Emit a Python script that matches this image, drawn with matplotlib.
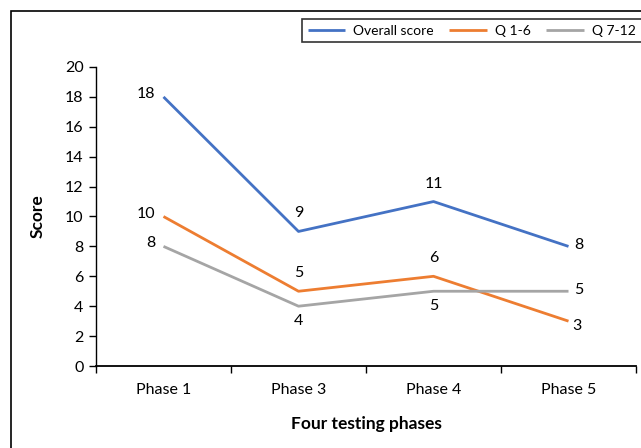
import matplotlib
matplotlib.use("Agg")
import matplotlib.pyplot as plt
from matplotlib.patches import Rectangle

plt.rcParams["font.family"] = ["Lato", "DejaVu Sans"]

phases = ["Phase 1", "Phase 3", "Phase 4", "Phase 5"]
overall = [18, 9, 11, 8]
q1_6 = [10, 5, 6, 3]
q7_12 = [8, 4, 5, 5]

# where each data label sits relative to its point
overall_pos = ["left", "above", "above", "right"]
q1_6_pos = ["left", "above", "above", "right_low"]
q7_12_pos = ["left", "below", "below", "right"]

offsets = {
    "left": ((-8, 3), "right", "center"),
    "above": ((0, 18), "center", "center"),
    "below": ((0, -15), "center", "center"),
    "right": ((6, 1), "left", "center"),
    "right_low": ((4, -5), "left", "center"),
}

W, H = 641, 448
fig = plt.figure(figsize=(W / 100, H / 100), dpi=100)

# outer chart border (right/bottom edges are cut off)
fig.patches.append(Rectangle((11 / W, -0.1), 1.2, 1 - 11 / H + 0.1,
                             transform=fig.transFigure, fill=False,
                             edgecolor="black", linewidth=1.2))

ax = fig.add_axes([96 / W, 1 - 366 / H, 540 / W, 299 / H])

series = [
    ("Overall score", overall, "#4472C4", overall_pos),
    ("Q 1-6", q1_6, "#ED7D31", q1_6_pos),
    ("Q 7-12", q7_12, "#A5A5A5", q7_12_pos),
]
x = list(range(len(phases)))
for name, vals, col, pos in series:
    ax.plot(x, vals, color=col, linewidth=2.0, label=name, solid_capstyle="butt")
    for xi, v, p in zip(x, vals, pos):
        off, ha, va = offsets[p]
        ax.annotate(str(v), (xi, v), xytext=off, textcoords="offset pixels",
                    ha=ha, va=va, fontsize=11.5, color="black")

ax.set_xlim(-0.5, 3.5)
ax.set_ylim(0, 20)
ax.set_yticks(range(0, 21, 2))
ax.set_xticks(x)
ax.set_xticklabels(phases)
ax.set_xticks([i - 0.5 for i in range(5)], minor=True)
ax.tick_params(axis="x", which="major", length=0, pad=12, labelsize=11.5)
ax.tick_params(axis="x", which="minor", length=5, width=1, direction="out")
ax.tick_params(axis="y", length=5, width=1, direction="out", pad=4, labelsize=11.5)
for s in ["top", "right"]:
    ax.spines[s].set_visible(False)
ax.spines["left"].set_linewidth(1)
ax.spines["bottom"].set_linewidth(1.3)

ax.set_ylabel("Score", fontsize=12.5, fontweight="bold", labelpad=14)
ax.set_xlabel("Four testing phases", fontsize=12.5, fontweight="bold", labelpad=14)

leg = fig.legend(loc="upper left", bbox_to_anchor=(302 / W, 1 - 19 / H), ncol=3,
                 fontsize=10, frameon=True, fancybox=False, edgecolor="black",
                 handlelength=2.7, columnspacing=1.1, borderpad=0.4,
                 handletextpad=0.6, borderaxespad=0)
leg.get_frame().set_linewidth(1.2)

fig.savefig("out.png", dpi=100)
